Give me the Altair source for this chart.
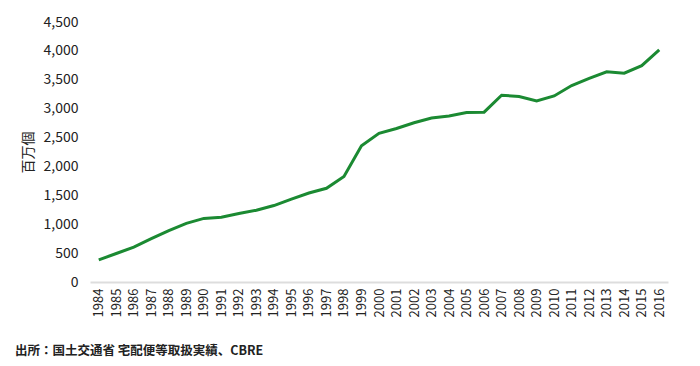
import altair as alt
import pandas as pd

years = [str(y) for y in range(1984, 2017)]
values = [384, 493, 603, 750, 891, 1015, 1101, 1122, 1187, 1243, 1323, 1435,
          1541, 1622, 1826, 2356, 2574, 2656, 2756, 2838, 2874, 2933, 2939,
          3232, 3211, 3134, 3220, 3400, 3526, 3637, 3614, 3745, 4019]
y_ticks = [0, 500, 1000, 1500, 2000, 2500, 3000, 3500, 4000, 4500]

df = pd.DataFrame({"year": years, "value": values})

font = "Noto Sans CJK JP"

chart = alt.Chart(df).mark_line(color="#1b8a32", strokeWidth=3).encode(
    x=alt.X("year:O", sort=years,
            scale=alt.Scale(paddingInner=0.0, paddingOuter=0.25),
            axis=alt.Axis(title=None, labelAngle=270, labelFont=font,
                          labelFontSize=13, labelColor="#222222",
                          domainColor="#dddddd", domainWidth=2, ticks=False,
                          labelPadding=6)),
    y=alt.Y("value:Q", scale=alt.Scale(domain=[0, 4500], nice=False),
            axis=alt.Axis(title="百万個", values=y_ticks, format=",.0f",
                          labelFont=font, labelFontSize=14, labelColor="#222222",
                          titleFont=font, titleFontSize=14, titleFontWeight="normal",
                          titleColor="#222222", titlePadding=8,
                          domain=False, ticks=False, grid=False, labelPadding=12)),
).properties(
    width=578, height=260,
    title=alt.TitleParams("出所：国土交通省 宅配便等取扱実績、CBRE", orient="bottom",
                          anchor="start", frame="bounds", font=font, fontSize=12.5,
                          fontWeight="bold", color="#222222", offset=28, dx=-6),
    autosize=alt.AutoSizeParams(type="none"),
    padding={"left": 82, "top": 14, "right": 24, "bottom": 76},
).configure_view(stroke=None)

chart.save("out.html", embed_options={"renderer": "svg", "actions": False})
